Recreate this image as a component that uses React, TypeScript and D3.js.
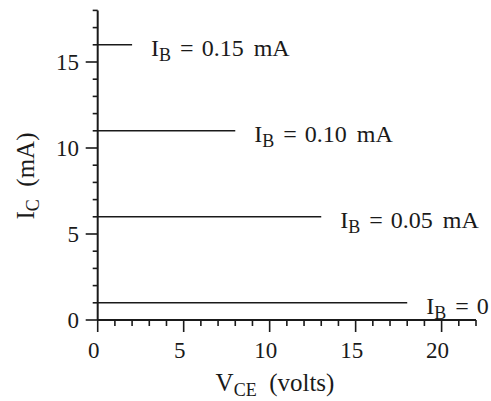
import React from 'react';
import * as d3 from 'd3';

// characteristic curves of the transistor: base current label, collector current, end of line (volts)
const ibValues = ['0.15', '0.10', '0.05', '0'];
const ibUnits = ['mA', 'mA', 'mA', ''];
const icLevels = [16, 11, 6, 1];
const vceEnds = [2, 8, 13, 18];

const xTicks = [0, 5, 10, 15, 20];
const yTicks = [0, 5, 10, 15];

const W = 491;
const H = 401;
const font = '"Liberation Serif", "Times New Roman", serif';
const ink = '#1a1a1a';

export default function App() {
  const x = d3.scaleLinear().domain([0, 22]).range([97.7, 476]);
  const y = d3.scaleLinear().domain([0, 18]).range([320, 10.4]);

  const xMinor = d3.range(0, 23);
  const yMinor = d3.range(0, 19);

  const curves = ibValues.map((v, i) => ({ v, unit: ibUnits[i], ic: icLevels[i], end: vceEnds[i] }));

  return (
    <div style={{ position: 'absolute', left: 0, top: 0 }}>
      <svg width={W} height={H} style={{ display: 'block', background: '#fff' }}>
        {/* curves */}
        {curves.map((c, i) => (
          <g key={i}>
            <line x1={x(0)} x2={x(c.end)} y1={y(c.ic)} y2={y(c.ic)} stroke={ink} strokeWidth={1.6} />
            <text x={x(c.end) + 19} y={y(c.ic) + 11} fontFamily={font} fontSize={24} fill={ink}
                  style={{ whiteSpace: 'pre' }}>
              <tspan>I</tspan>
              <tspan fontSize={18} dy={5}>B</tspan>
              <tspan dy={-5} dx={3}>{' = '}</tspan>
              <tspan dx={2}>{c.v}</tspan>
              {c.unit && <tspan dx={4}>{' ' + c.unit}</tspan>}
            </text>
          </g>
        ))}

        {/* axes */}
        <line x1={x(0)} x2={x(0)} y1={y(0)} y2={y(18)} stroke={ink} strokeWidth={2} />
        <line x1={x(0)} x2={x(22)} y1={y(0)} y2={y(0)} stroke={ink} strokeWidth={2} />

        {xMinor.map(v => (
          <line key={'xm' + v} x1={x(v)} x2={x(v)} y1={y(0)} y2={y(0) + (v % 5 === 0 ? 12 : 6)}
                stroke={ink} strokeWidth={1.6} />
        ))}
        {yMinor.map(v => (
          <line key={'ym' + v} x1={x(0)} x2={x(0) - (v % 5 === 0 ? 12 : 5)} y1={y(v)} y2={y(v)}
                stroke={ink} strokeWidth={1.6} />
        ))}

        {xTicks.map(v => (
          <text key={'xt' + v} x={x(v) - 4} y={358} textAnchor="middle" fontFamily={font} fontSize={23} fill={ink}>
            {v}
          </text>
        ))}
        {yTicks.map(v => (
          <text key={'yt' + v} x={79} y={y(v) + 8} textAnchor="end" fontFamily={font} fontSize={23} fill={ink}>
            {v}
          </text>
        ))}

        {/* axis titles */}
        <text x={275} y={391} textAnchor="middle" fontFamily={font} fontSize={25} fill={ink}
              style={{ whiteSpace: 'pre' }}>
          <tspan>V</tspan>
          <tspan fontSize={18} dy={5}>CE</tspan>
          <tspan dy={-5}>{'  (volts)'}</tspan>
        </text>
        <text transform="translate(34,176) rotate(-90)" textAnchor="middle" fontFamily={font} fontSize={25} fill={ink}
              style={{ whiteSpace: 'pre' }}>
          <tspan>I</tspan>
          <tspan fontSize={18} dy={5}>C</tspan>
          <tspan dy={-5}>{'  (mA)'}</tspan>
        </text>
      </svg>
    </div>
  );
}
